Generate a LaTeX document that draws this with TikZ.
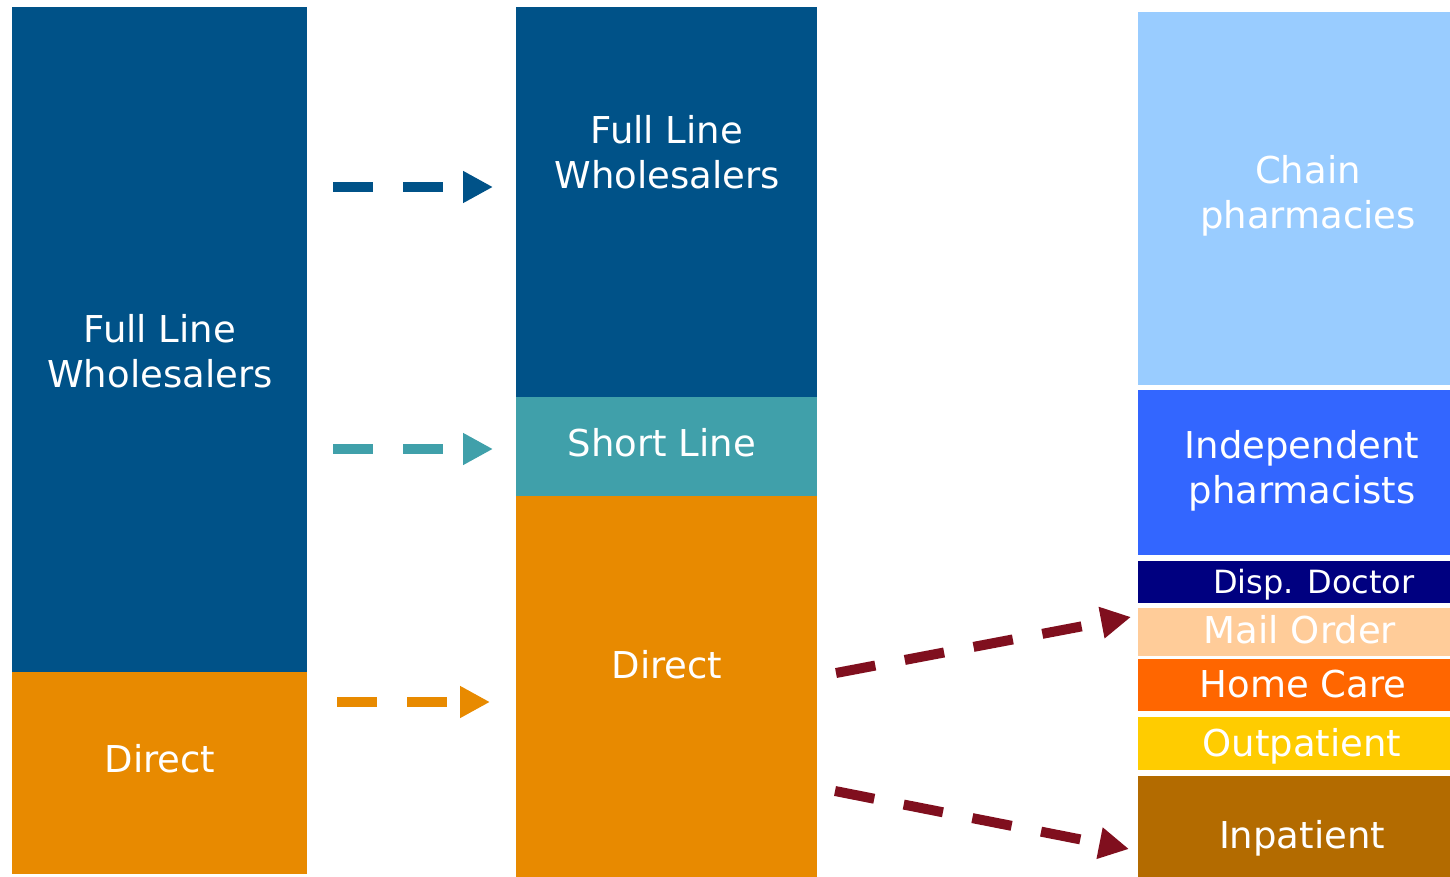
\documentclass[tikz,border=0pt]{standalone}
\usepackage{fontspec}
\setmainfont{DejaVu Sans}
\usetikzlibrary{arrows.meta}
\definecolor{cdblue}{RGB}{0,82,136}
\definecolor{cteal}{RGB}{64,160,170}
\definecolor{corange}{RGB}{232,138,0}
\definecolor{clblue}{RGB}{153,204,255}
\definecolor{cindep}{RGB}{51,102,255}
\definecolor{cnavy}{RGB}{0,0,128}
\definecolor{cmail}{RGB}{255,204,153}
\definecolor{chome}{RGB}{255,102,0}
\definecolor{cout}{RGB}{255,204,0}
\definecolor{cin}{RGB}{179,107,0}
\definecolor{cred}{RGB}{128,15,30}
\tikzset{
  box/.style={rectangle, inner sep=0pt, outer sep=0pt, draw=none, anchor=north west},
  lbl/.style={text=white, inner sep=0pt, anchor=base, align=center, font=\fontsize{37}{45}\selectfont},
  slbl/.style={lbl, font=\fontsize{32}{38}\selectfont},
  flowarrow/.style={line width=10pt, dash pattern=on 40pt off 30pt, -{Triangle[length=30pt,width=30pt]}}
}
\begin{document}
\begin{tikzpicture}[x=1pt,y=-1pt]
\useasboundingbox (0,0) rectangle (1450,877);
% left column
\node[box, fill=cdblue, minimum width=295pt, minimum height=665pt] (lflw) at (12,7) {};
\node[box, fill=corange, minimum width=295pt, minimum height=202pt] (ldir) at (12,672) {};
% middle column
\node[box, fill=cdblue, minimum width=301pt, minimum height=390pt] (mflw) at (516,7) {};
\node[box, fill=cteal, minimum width=301pt, minimum height=99pt] (mshort) at (516,397) {};
\node[box, fill=corange, minimum width=301pt, minimum height=381pt] (mdir) at (516,496) {};
% right column
\node[box, fill=clblue, minimum width=312pt, minimum height=373pt] (rchain) at (1138,12) {};
\node[box, fill=cindep, minimum width=312pt, minimum height=165pt] (rind) at (1138,390) {};
\node[box, fill=cnavy, minimum width=312pt, minimum height=42pt] (rdisp) at (1138,561) {};
\node[box, fill=cmail, minimum width=312pt, minimum height=48pt] (rmail) at (1138,608) {};
\node[box, fill=chome, minimum width=312pt, minimum height=52pt] (rhome) at (1138,659) {};
\node[box, fill=cout, minimum width=312pt, minimum height=53pt] (rout) at (1138,717) {};
\node[box, fill=cin, minimum width=312pt, minimum height=101pt] (rin) at (1138,776) {};
% labels (base anchor = baseline of last line)
\node[lbl] (tlflw) at (160,387) {Full Line\\Wholesalers};
\node[lbl] (tldir) at (160,772) {Direct};
\node[lbl] (tmflw) at (667,189) {Full Line\\Wholesalers};
\node[lbl] (tmshort) at (662,456) {Short Line};
\node[lbl] (tmdir) at (667,678) {Direct};
\node[lbl] (trchain) at (1308,229) {Chain\\pharmacies};
\node[lbl] (trind) at (1302,503) {Independent\\pharmacists};
\node[slbl] (trdisp) at (1314,593) {Disp. Doctor};
\node[lbl] (trmail) at (1300,643) {Mail Order};
\node[lbl] (trhome) at (1303,697) {Home Care};
\node[lbl] (trout) at (1302,756) {Outpatient};
\node[lbl] (trin) at (1302,848) {Inpatient};
% arrow end points
\coordinate (a1s) at (333,187); \coordinate (a1e) at (493,187);
\coordinate (a2s) at (333,449); \coordinate (a2e) at (493,449);
\coordinate (a3s) at (337,702); \coordinate (a3e) at (490,702);
\coordinate (a4s) at (836,673); \coordinate (a4e) at (1131,617);
\coordinate (a5s) at (835,791); \coordinate (a5e) at (1129,849);
\draw[flowarrow, draw=cdblue] (a1s) -- (a1e);
\draw[flowarrow, draw=cteal] (a2s) -- (a2e);
\draw[flowarrow, draw=corange] (a3s) -- (a3e);
\draw[flowarrow, draw=cred] (a4s) -- (a4e);
\draw[flowarrow, draw=cred] (a5s) -- (a5e);
\end{tikzpicture}
\end{document}
